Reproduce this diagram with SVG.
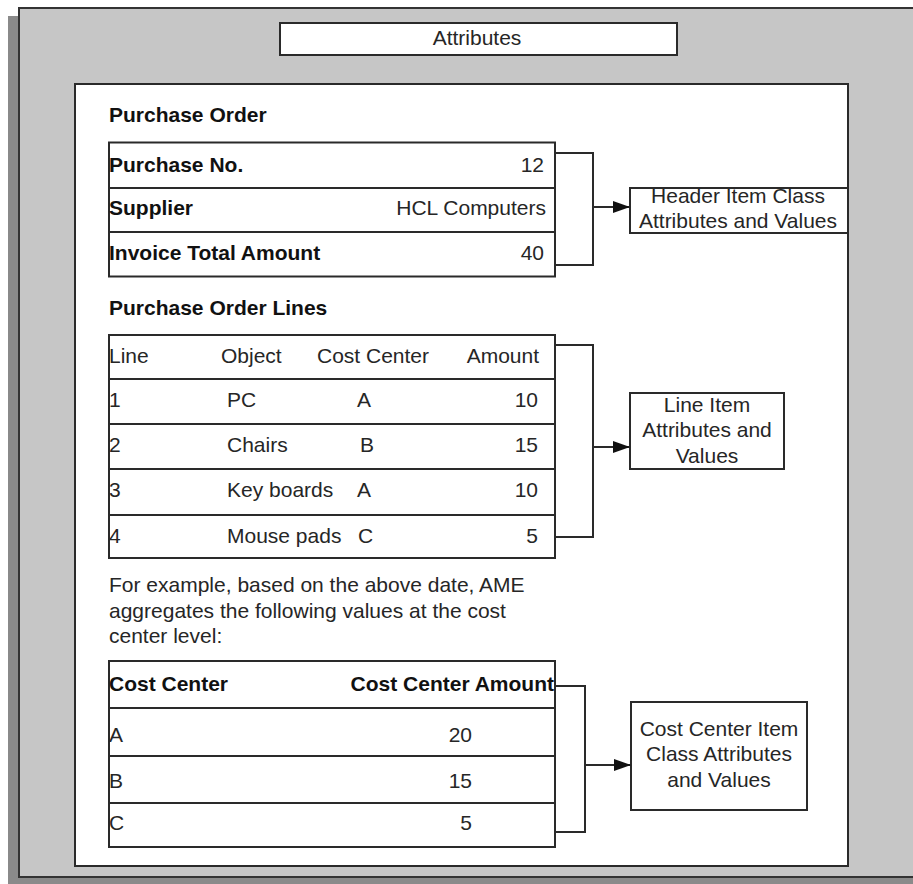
<svg xmlns="http://www.w3.org/2000/svg" width="913" height="884" viewBox="0 0 913 884">
<defs>
<marker id="arr" markerWidth="18" markerHeight="12" refX="17" refY="6" orient="auto" markerUnits="userSpaceOnUse">
<path d="M0,0 L17,6 L0,12 Z" fill="#111"/>
</marker>
<style>
text{font-family:"Liberation Sans",Arial,sans-serif;font-size:21px;fill:#262626}
.b{font-weight:bold;fill:#111}
.m{text-anchor:middle}
.e{text-anchor:end}
.box{fill:#fff;stroke:#2a2a2a;stroke-width:2}
.ln{fill:none;stroke:#2a2a2a;stroke-width:2}
</style>
</defs>
<rect x="8" y="16" width="920" height="869" fill="#8a8a8a"/>
<rect id="panel" x="19" y="8" width="910" height="869" fill="#c6c6c6" stroke="#333" stroke-width="2"/>
<g id="title">
<rect class="box" x="280" y="23" width="397" height="32"/>
<text class="m" x="477" y="45">Attributes</text>
</g>
<rect id="inner" x="75" y="84" width="773" height="782" fill="#fff" stroke="#2a2a2a" stroke-width="2"/>
<g id="po">
<text class="b" x="109" y="122">Purchase Order</text>
<rect class="box" x="109" y="142.5" width="446" height="134"/>
<line class="ln" x1="109" y1="188" x2="555" y2="188"/>
<line class="ln" x1="109" y1="232" x2="555" y2="232"/>
<text class="b" x="109" y="171.5">Purchase No.</text>
<text class="e" x="544" y="171.5">12</text>
<text class="b" x="109" y="215">Supplier</text>
<text class="e" x="546" y="215">HCL Computers</text>
<text class="b" x="109" y="260">Invoice Total Amount</text>
<text class="e" x="544" y="260">40</text>
</g>
<g id="pol">
<text class="b" x="109" y="315">Purchase Order Lines</text>
<rect class="box" x="109" y="335" width="446" height="223"/>
<line class="ln" x1="109" y1="379" x2="555" y2="379"/>
<line class="ln" x1="109" y1="424" x2="555" y2="424"/>
<line class="ln" x1="109" y1="469" x2="555" y2="469"/>
<line class="ln" x1="109" y1="515" x2="555" y2="515"/>
<text x="109" y="363">Line</text>
<text x="221" y="363">Object</text>
<text x="317" y="363">Cost Center</text>
<text class="e" x="539" y="363">Amount</text>
<text x="109" y="407">1</text>
<text x="227" y="407">PC</text>
<text x="357" y="407">A</text>
<text class="e" x="538" y="407">10</text>
<text x="109" y="452">2</text>
<text x="227" y="452">Chairs</text>
<text x="360" y="452">B</text>
<text class="e" x="538" y="452">15</text>
<text x="109" y="497">3</text>
<text x="227" y="497">Key boards</text>
<text x="357" y="497">A</text>
<text class="e" x="538" y="497">10</text>
<text x="109" y="543">4</text>
<text x="227" y="543">Mouse pads</text>
<text x="358" y="543">C</text>
<text class="e" x="538" y="543">5</text>
</g>
<g id="para">
<text x="109" y="592">For example, based on the above date, AME</text>
<text x="109" y="618">aggregates the following values at the cost</text>
<text x="109" y="643">center level:</text>
</g>
<g id="cc">
<rect class="box" x="109" y="661" width="446" height="186"/>
<line class="ln" x1="109" y1="708" x2="555" y2="708"/>
<line class="ln" x1="109" y1="756" x2="555" y2="756"/>
<line class="ln" x1="109" y1="803" x2="555" y2="803"/>
<text class="b" x="109" y="691">Cost Center</text>
<text class="b e" x="554" y="691">Cost Center Amount</text>
<text x="109" y="742">A</text>
<text class="e" x="472" y="742">20</text>
<text x="109" y="788">B</text>
<text class="e" x="472" y="788">15</text>
<text x="109" y="830">C</text>
<text class="e" x="472" y="830">5</text>
</g>
<g id="header-box">
<rect class="box" x="630" y="188" width="218" height="45"/>
<text class="m" x="738" y="203">Header Item Class</text>
<text class="m" x="738" y="228">Attributes and Values</text>
</g>
<g id="line-box">
<rect class="box" x="630" y="393" width="154" height="76"/>
<text class="m" x="707" y="412">Line Item</text>
<text class="m" x="707" y="437">Attributes and</text>
<text class="m" x="707" y="463">Values</text>
</g>
<g id="cc-box">
<rect class="box" x="631" y="702" width="176" height="108"/>
<text class="m" x="719" y="736">Cost Center Item</text>
<text class="m" x="719" y="761">Class Attributes</text>
<text class="m" x="719" y="787">and Values</text>
</g>
<g id="connectors">
<polyline class="ln" points="555,153 593,153 593,265 555,265"/>
<line class="ln" x1="593" y1="207" x2="630" y2="207" marker-end="url(#arr)"/>
<polyline class="ln" points="555,345 593,345 593,537 555,537"/>
<line class="ln" x1="593" y1="447" x2="630" y2="447" marker-end="url(#arr)"/>
<polyline class="ln" points="555,686 585,686 585,832 555,832"/>
<line class="ln" x1="585" y1="765" x2="631" y2="765" marker-end="url(#arr)"/>
</g>
</svg>
